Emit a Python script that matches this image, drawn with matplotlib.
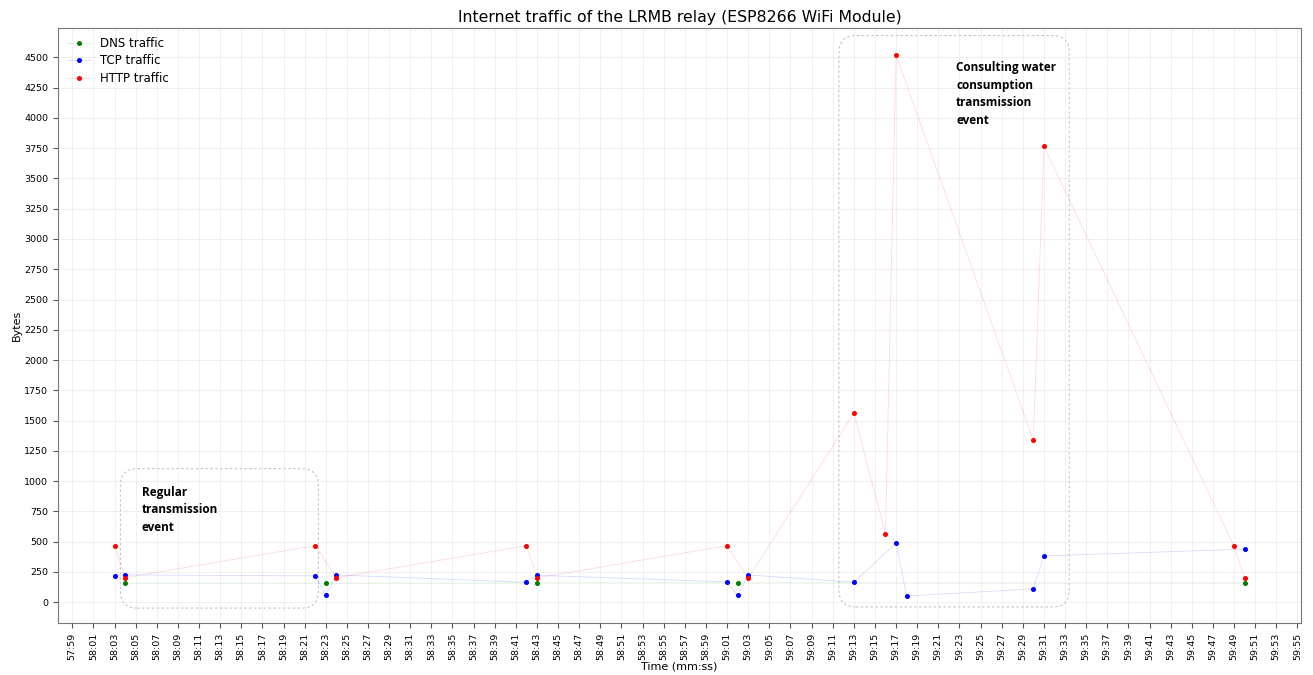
# Plot DNS / TCP / HTTP packet sizes captured from the LRMB relay

import matplotlib
matplotlib.use('Agg')
import matplotlib.pyplot as plt
from matplotlib.patches import FancyBboxPatch
from matplotlib.lines import Line2D
from matplotlib.ticker import FuncFormatter, MultipleLocator
import numpy as np

# Captured packets, timestamps as mm:ss
dns_time = ['58:04', '58:23', '58:43', '59:02', '59:50']
dns_bytes = [155, 155, 157, 157, 157]

tcp_time = ['58:03', '58:04', '58:22', '58:23', '58:24', '58:42', '58:43',
            '59:01', '59:02', '59:03', '59:13', '59:17', '59:18', '59:30',
            '59:31', '59:50']
tcp_bytes = [216, 224, 216, 55, 224, 163, 221, 166, 55, 224, 163, 486, 50,
             108, 381, 437]

http_time = ['58:03', '58:04', '58:22', '58:24', '58:42', '58:43', '59:01',
             '59:03', '59:13', '59:16', '59:17', '59:30', '59:31', '59:49',
             '59:50']
http_bytes = [466, 201, 466, 201, 466, 199, 466, 196, 1560, 566, 4520, 1337,
              3767, 461, 199]


def to_seconds(stamps):
    out = []
    for s in stamps:
        m, sec = s.split(':')
        out.append(int(m) * 60 + int(sec))
    return np.array(out)


def mmss(x, pos=None):
    x = int(round(x))
    return '{0:02d}:{1:02d}'.format(x // 60, x % 60)


fig = plt.figure(figsize=(13.13, 6.75), dpi=100)
ax = fig.add_axes([0.0442, 0.077, 0.9467, 0.8815])

series = [(dns_time, dns_bytes, 'green', 'DNS traffic'),
          (tcp_time, tcp_bytes, 'blue', 'TCP traffic'),
          (http_time, http_bytes, 'red', 'HTTP traffic')]

for times, values, color, label in series:
    t = to_seconds(times)
    ax.plot(t, values, color=color, lw=0.6, alpha=0.15)
    ax.plot(t, values, 'o', color=color, ms=2.6, label=label)

# Legend: faint line behind each dot
handles = [Line2D([0], [0], color=c, lw=0.6, alpha=0.15) for _, _, c, _ in series]
dots = [Line2D([0], [0], color=c, marker='o', ms=2.6, lw=0) for _, _, c, _ in series]
ax.legend([(h, d) for h, d in zip(handles, dots)], [s[3] for s in series],
          loc='upper left', frameon=False, fontsize=8.5, handlelength=2.0,
          borderaxespad=0.35, labelspacing=0.38)

# Axes, ticks and grid
start = to_seconds(['57:59'])[0]
end = to_seconds(['59:55'])[0]
ax.set_xticks(np.arange(start, end + 1, 2))
ax.xaxis.set_major_formatter(FuncFormatter(mmss))
ax.yaxis.set_major_locator(MultipleLocator(250))
ax.tick_params(axis='x', labelrotation=90)
ax.tick_params(labelsize=6.8, color='#555555')
ax.grid(True, color='#dddddd', lw=0.5, alpha=0.6)
for sp in ax.spines.values():
    sp.set_color('#777777')

ax.set_xlabel('Time (mm:ss)', fontsize=8, labelpad=1)
ax.set_ylabel('Bytes', fontsize=8, labelpad=2)
ax.set_title('Internet traffic of the LRMB relay (ESP8266 WiFi Module)',
             fontsize=11.3, pad=4)

# Dashed boxes around the two transmission events
x_px = 10.56
y_px = 0.1207
for x0, x1, y0, y1 in [(3483.55, 3502.3, -50, 1102),
                       (3551.6, 3573.4, -41, 4681)]:
    box = FancyBboxPatch((x0, y0), x1 - x0, y1 - y0,
                         boxstyle='round,pad=0,rounding_size=1.6',
                         mutation_aspect=x_px / y_px,
                         fill=False, ls=(0, (2.5, 2.5)), lw=0.7,
                         edgecolor='#bbbbbb', zorder=1)
    ax.add_patch(box)

ax.text(3485.6, 960, 'Regular\ntransmission\nevent', fontsize=8.5,
        fontweight='bold', family='Open Sans', va='top', ha='left',
        linespacing=1.45)
ax.text(3562.7, 4470, 'Consulting water\nconsumption\ntransmission\nevent',
        fontsize=8.5, fontweight='bold', family='Open Sans', va='top',
        ha='left', linespacing=1.45)

plt.savefig('out.png', dpi=100)
